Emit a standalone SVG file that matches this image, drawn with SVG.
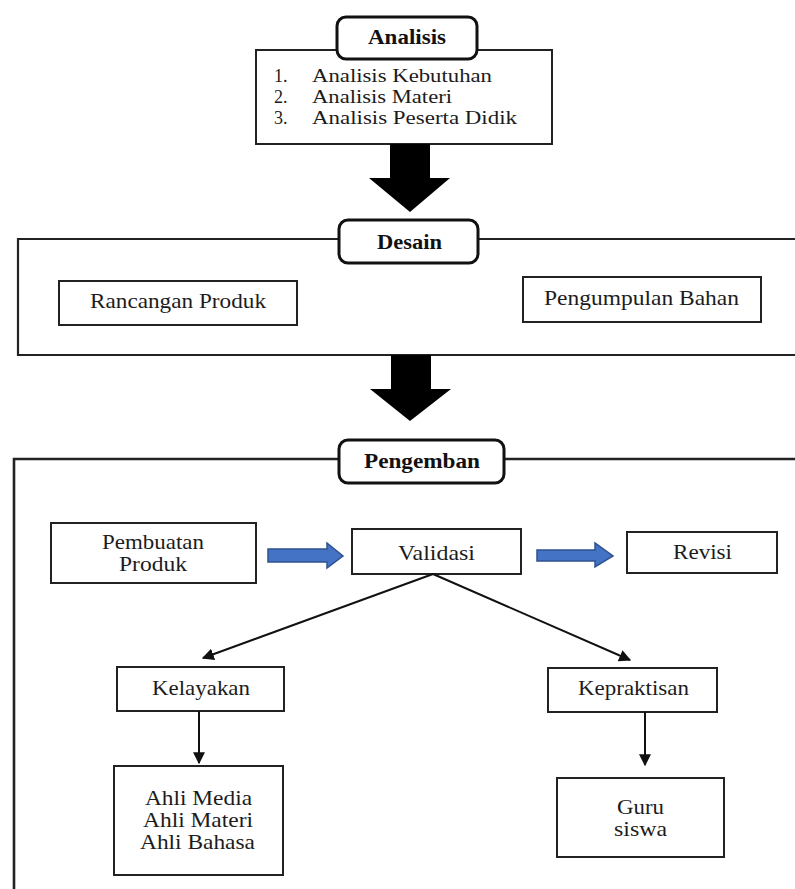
<svg xmlns="http://www.w3.org/2000/svg" width="795" height="889" viewBox="0 0 795 889">
<style>
text{font-family:"Liberation Serif","Times New Roman",serif;fill:#1c1c1c;font-size:21px}
.li{font-size:18px}
.b{font-weight:bold;font-size:20px;fill:#111}
.box{fill:#fff;stroke:#222;stroke-width:2}
.frame{fill:none;stroke:#222;stroke-width:2.2}
.lbl{fill:#fff;stroke:#111;stroke-width:3}
.big{fill:#000}
.blue{fill:#4472C4;stroke:#2F528F;stroke-width:1.5}
.ln{stroke:#111;stroke-width:2;fill:none}
</style>
<defs>
<marker id="ah" viewBox="0 0 10 10" refX="9" refY="5" markerWidth="6" markerHeight="6" orient="auto" markerUnits="strokeWidth">
<path d="M0,0 L10,5 L0,10 z" fill="#111"/>
</marker>
</defs>
<rect width="795" height="889" fill="#fff"/>

<g id="analisis">
<rect class="box" x="256" y="50" width="296" height="94"/>
<rect class="lbl" x="337" y="17" width="140" height="42" rx="9"/>
<text class="b" x="368" y="44" textLength="78" lengthAdjust="spacingAndGlyphs">Analisis</text>
<text class="li" x="274" y="82">1.</text>
<text class="li" x="312" y="82" textLength="180" lengthAdjust="spacingAndGlyphs">Analisis Kebutuhan</text>
<text class="li" x="274" y="103">2.</text>
<text class="li" x="312" y="103" textLength="140" lengthAdjust="spacingAndGlyphs">Analisis Materi</text>
<text class="li" x="274" y="124">3.</text>
<text class="li" x="312" y="124" textLength="205" lengthAdjust="spacingAndGlyphs">Analisis Peserta Didik</text>
</g>

<g id="desain">
<path class="frame" d="M800 239 H18 V355 H800"/>
<rect class="lbl" x="339" y="220" width="139" height="43" rx="9"/>
<text class="b" x="377" y="249" textLength="65" lengthAdjust="spacingAndGlyphs">Desain</text>
</g>
<g id="rancangan">
<rect class="box" x="59" y="281" width="238" height="44"/>
<text x="90" y="308" textLength="176" lengthAdjust="spacingAndGlyphs">Rancangan Produk</text>
</g>
<g id="pengumpulan">
<rect class="box" x="523" y="277" width="238" height="45"/>
<text x="544" y="305" textLength="195" lengthAdjust="spacingAndGlyphs">Pengumpulan Bahan</text>
</g>

<g id="pengemban">
<path class="frame" d="M800 459 H14 V895" style="stroke-width:2.6"/>
<rect class="lbl" x="339" y="440" width="165" height="43" rx="9"/>
<text class="b" x="364" y="468" textLength="116" lengthAdjust="spacingAndGlyphs">Pengemban</text>
</g>
<g id="pembuatan">
<rect class="box" x="51" y="523" width="205" height="60"/>
<text x="102" y="549" textLength="102" lengthAdjust="spacingAndGlyphs">Pembuatan</text>
<text x="119" y="571" textLength="68" lengthAdjust="spacingAndGlyphs">Produk</text>
</g>
<g id="validasi">
<rect class="box" x="352" y="529" width="169" height="45"/>
<text x="398" y="560" textLength="77" lengthAdjust="spacingAndGlyphs">Validasi</text>
</g>
<g id="revisi">
<rect class="box" x="627" y="532" width="150" height="41"/>
<text x="673" y="559" textLength="59" lengthAdjust="spacingAndGlyphs">Revisi</text>
</g>
<g id="kelayakan">
<rect class="box" x="117" y="667" width="167" height="44"/>
<text x="152" y="695" textLength="98" lengthAdjust="spacingAndGlyphs">Kelayakan</text>
</g>
<g id="kepraktisan">
<rect class="box" x="548" y="668" width="169" height="44"/>
<text x="578" y="695" textLength="111" lengthAdjust="spacingAndGlyphs">Kepraktisan</text>
</g>
<g id="ahli">
<rect class="box" x="114" y="766" width="169" height="109"/>
<text x="145" y="805" textLength="107" lengthAdjust="spacingAndGlyphs">Ahli Media</text>
<text x="143" y="827" textLength="110" lengthAdjust="spacingAndGlyphs">Ahli Materi</text>
<text x="140" y="849" textLength="115" lengthAdjust="spacingAndGlyphs">Ahli Bahasa</text>
</g>
<g id="guru">
<rect class="box" x="557" y="778" width="167" height="79"/>
<text x="617" y="814" textLength="47" lengthAdjust="spacingAndGlyphs">Guru</text>
<text x="614" y="836" textLength="53" lengthAdjust="spacingAndGlyphs">siswa</text>
</g>

<g id="connectors">
<polygon class="big" points="390,144 430,144 430,178 450,178 410,212 369,178 390,178"/>
<polygon class="big" points="391,355 431,355 431,389 451,389 410,421 370,389 391,389"/>
<polygon class="blue" points="268,549 327,549 327,543 343,556 327,568 327,562 268,562"/>
<polygon class="blue" points="537,550 595,550 595,543 613,556 595,567 595,561 537,561"/>
<line class="ln" x1="433" y1="574" x2="203" y2="658" marker-end="url(#ah)"/>
<line class="ln" x1="433" y1="574" x2="630" y2="660" marker-end="url(#ah)"/>
<line class="ln" x1="199" y1="711" x2="199" y2="763" marker-end="url(#ah)"/>
<line class="ln" x1="645" y1="712" x2="645" y2="765" marker-end="url(#ah)"/>
</g>
</svg>
